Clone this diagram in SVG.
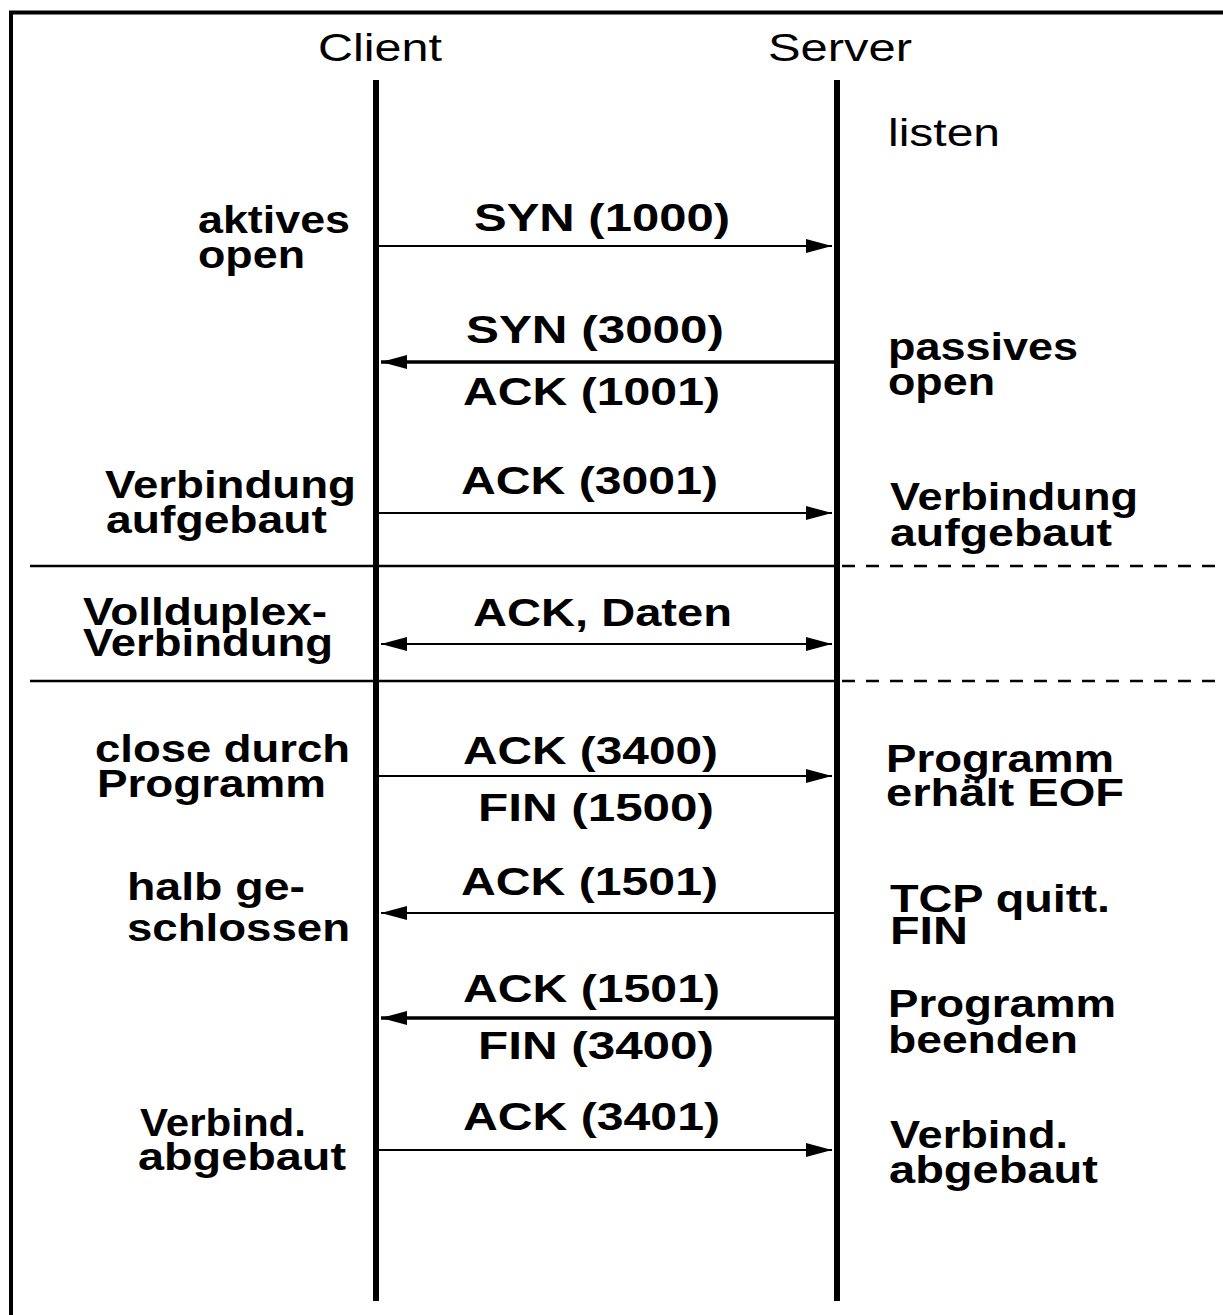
<svg xmlns="http://www.w3.org/2000/svg" width="1223" height="1315" viewBox="0 0 1223 1315">
<defs>
<style>
.t{font-family:"Liberation Sans",Arial,Helvetica,sans-serif;font-size:38px;font-weight:bold;fill:#000}
.h{font-weight:normal;font-size:39px}
.life{stroke:#000;stroke-width:6;fill:none}
.msg{stroke:#000;stroke-width:2.2;fill:none;marker-end:url(#ah)}
.msg.thick{stroke-width:3.5}
.dbl{marker-start:url(#ah)}
.sep{stroke:#000;stroke-width:2.5;fill:none}
.sep.d{stroke-dasharray:13 11}
</style>
<marker id="ah" markerUnits="userSpaceOnUse" markerWidth="26" markerHeight="14" refX="26" refY="7" orient="auto-start-reverse">
<path d="M0,0 L26,7 L0,14 z" fill="#000"/>
</marker>
</defs>
<rect width="1223" height="1315" fill="#fff"/>
<g id="frame">
<path d="M11,1315 V12.5 H1223" stroke="#000" stroke-width="4" fill="none"/>
</g>
<g id="separators">
<line class="sep" x1="30" y1="566" x2="836" y2="566"/>
<line class="sep d" x1="842" y1="566" x2="1215" y2="566"/>
<line class="sep" x1="30" y1="681" x2="836" y2="681"/>
<line class="sep d" x1="842" y1="681" x2="1215" y2="681"/>
</g>
<g id="client">
<text class="t h" x="318" y="61" textLength="124" lengthAdjust="spacingAndGlyphs">Client</text>
<line class="life" x1="376" y1="80" x2="376" y2="1301"/>
</g>
<g id="server">
<text class="t h" x="768" y="61" textLength="144" lengthAdjust="spacingAndGlyphs">Server</text>
<line class="life" x1="837" y1="80" x2="837" y2="1301"/>
</g>
<g id="note-listen"><text class="t h" x="888" y="146" textLength="112" lengthAdjust="spacingAndGlyphs">listen</text></g>
<g id="note-aktives-open">
<text class="t" x="198" y="233" textLength="152" lengthAdjust="spacingAndGlyphs">aktives</text>
<text class="t" x="198" y="268" textLength="107" lengthAdjust="spacingAndGlyphs">open</text>
</g>
<g id="note-passives-open">
<text class="t" x="888" y="360" textLength="190" lengthAdjust="spacingAndGlyphs">passives</text>
<text class="t" x="888" y="395" textLength="107" lengthAdjust="spacingAndGlyphs">open</text>
</g>
<g id="note-client-aufgebaut">
<text class="t" x="105" y="498" textLength="251" lengthAdjust="spacingAndGlyphs">Verbindung</text>
<text class="t" x="106" y="533" textLength="221" lengthAdjust="spacingAndGlyphs">aufgebaut</text>
</g>
<g id="note-server-aufgebaut">
<text class="t" x="890" y="510" textLength="248" lengthAdjust="spacingAndGlyphs">Verbindung</text>
<text class="t" x="890" y="546" textLength="222" lengthAdjust="spacingAndGlyphs">aufgebaut</text>
</g>
<g id="note-vollduplex">
<text class="t" x="83" y="625" textLength="244" lengthAdjust="spacingAndGlyphs">Vollduplex-</text>
<text class="t" x="83" y="656" textLength="250" lengthAdjust="spacingAndGlyphs">Verbindung</text>
</g>
<g id="note-close">
<text class="t" x="95" y="762" textLength="255" lengthAdjust="spacingAndGlyphs">close durch</text>
<text class="t" x="97" y="797" textLength="229" lengthAdjust="spacingAndGlyphs">Programm</text>
</g>
<g id="note-eof">
<text class="t" x="886" y="772" textLength="228" lengthAdjust="spacingAndGlyphs">Programm</text>
<text class="t" x="886" y="806" textLength="238" lengthAdjust="spacingAndGlyphs">erhält EOF</text>
</g>
<g id="note-halb">
<text class="t" x="127" y="900" textLength="178" lengthAdjust="spacingAndGlyphs">halb ge-</text>
<text class="t" x="127" y="941" textLength="223" lengthAdjust="spacingAndGlyphs">schlossen</text>
</g>
<g id="note-tcp-quitt">
<text class="t" x="890" y="912" textLength="220" lengthAdjust="spacingAndGlyphs">TCP quitt.</text>
<text class="t" x="890" y="944" textLength="78" lengthAdjust="spacingAndGlyphs">FIN</text>
</g>
<g id="note-beenden">
<text class="t" x="888" y="1017" textLength="228" lengthAdjust="spacingAndGlyphs">Programm</text>
<text class="t" x="888" y="1053" textLength="190" lengthAdjust="spacingAndGlyphs">beenden</text>
</g>
<g id="note-client-abgebaut">
<text class="t" x="140" y="1136" textLength="166" lengthAdjust="spacingAndGlyphs">Verbind.</text>
<text class="t" x="138" y="1170" textLength="208" lengthAdjust="spacingAndGlyphs">abgebaut</text>
</g>
<g id="note-server-abgebaut">
<text class="t" x="890" y="1148" textLength="178" lengthAdjust="spacingAndGlyphs">Verbind.</text>
<text class="t" x="889" y="1183" textLength="209" lengthAdjust="spacingAndGlyphs">abgebaut</text>
</g>
<g id="connectors">
<g id="m-syn1000">
<line class="msg" x1="379" y1="246" x2="832" y2="246"/>
<text class="t" x="474" y="231" textLength="256" lengthAdjust="spacingAndGlyphs">SYN (1000)</text>
</g>
<g id="m-syn3000">
<line class="msg thick" x1="834" y1="362" x2="381" y2="362"/>
<text class="t" x="466" y="343" textLength="258" lengthAdjust="spacingAndGlyphs">SYN (3000)</text>
<text class="t" x="463" y="405" textLength="257" lengthAdjust="spacingAndGlyphs">ACK (1001)</text>
</g>
<g id="m-ack3001">
<line class="msg" x1="379" y1="513" x2="832" y2="513"/>
<text class="t" x="461" y="494" textLength="257" lengthAdjust="spacingAndGlyphs">ACK (3001)</text>
</g>
<g id="m-daten">
<line class="msg dbl" x1="381" y1="644" x2="832" y2="644"/>
<text class="t" x="473" y="626" textLength="259" lengthAdjust="spacingAndGlyphs">ACK, Daten</text>
</g>
<g id="m-ack3400">
<line class="msg" x1="379" y1="776" x2="832" y2="776"/>
<text class="t" x="463" y="764" textLength="255" lengthAdjust="spacingAndGlyphs">ACK (3400)</text>
<text class="t" x="478" y="821" textLength="236" lengthAdjust="spacingAndGlyphs">FIN (1500)</text>
</g>
<g id="m-ack1501a">
<line class="msg" x1="834" y1="913" x2="381" y2="913"/>
<text class="t" x="461" y="895" textLength="257" lengthAdjust="spacingAndGlyphs">ACK (1501)</text>
</g>
<g id="m-ack1501b">
<line class="msg thick" x1="834" y1="1018" x2="381" y2="1018"/>
<text class="t" x="463" y="1002" textLength="257" lengthAdjust="spacingAndGlyphs">ACK (1501)</text>
<text class="t" x="478" y="1059" textLength="236" lengthAdjust="spacingAndGlyphs">FIN (3400)</text>
</g>
<g id="m-ack3401">
<line class="msg" x1="379" y1="1150" x2="832" y2="1150"/>
<text class="t" x="463" y="1130" textLength="257" lengthAdjust="spacingAndGlyphs">ACK (3401)</text>
</g>
</g>
</svg>
